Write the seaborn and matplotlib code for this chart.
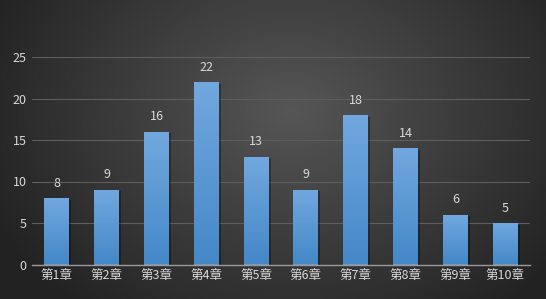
import numpy as np
import pandas as pd
import matplotlib
matplotlib.use("Agg")
import matplotlib.pyplot as plt
import seaborn as sns

categories = ["第1章", "第2章", "第3章", "第4章", "第5章", "第6章", "第7章", "第8章", "第9章", "第10章"]
values = [8, 9, 16, 22, 13, 9, 18, 14, 6, 5]
yticks = [0, 5, 10, 15, 20, 25]

sns.set_theme(style="dark")
plt.rcParams['font.family'] = ['Noto Sans CJK SC', 'DejaVu Sans']

W, H = 546, 299
fig = plt.figure(figsize=(W / 100, H / 100), dpi=100)

# radial gradient background
bg = fig.add_axes([0, 0, 1, 1], zorder=-10)
yy, xx = np.mgrid[0:H, 0:W]
cx, cy = 290, 110
r = np.sqrt(((xx - cx) / 330.0) ** 2 + ((yy - cy) / 260.0) ** 2)
r = np.clip(r, 0, 1)
c0 = np.array([0x56, 0x56, 0x56]) / 255
c1 = np.array([0x22, 0x22, 0x22]) / 255
img = c0[None, None, :] * (1 - r[..., None]) + c1[None, None, :] * r[..., None]
bg.imshow(img, aspect='auto', extent=[0, 1, 0, 1])
bg.set_axis_off()

ax = fig.add_axes([32 / W, 1 - 264.5 / H, 498 / W, (264.5 - 57) / H])
ax.patch.set_alpha(0)

df = pd.DataFrame({"chapter": categories, "count": values})
sns.barplot(data=df, x="chapter", y="count", ax=ax, width=0.5, color="#5b9bd5",
            zorder=3, linewidth=0, edgecolor="none")

ax.set_ylim(0, 25)
ax.set_xlim(-0.5, len(categories) - 0.5)
ax.set_yticks(yticks)
ax.grid(axis='y', color='#5e5e5e', linewidth=0.8, zorder=0)
ax.grid(axis='x', visible=False)
for s in ['top', 'right', 'left']:
    ax.spines[s].set_visible(False)
ax.spines['bottom'].set_color('#9a9a9a')
ax.spines['bottom'].set_linewidth(1.0)
ax.spines['bottom'].set_zorder(5)
ax.set_xlabel("")
ax.set_ylabel("")
ax.tick_params(axis='both', colors='#d0d0d0', labelsize=9, length=0, pad=4)
for t in ax.get_xticklabels() + ax.get_yticklabels():
    t.set_color('#d9d9d9')

# gradient fill on bars
grad = np.linspace(0, 1, 256)[:, None]
top_c = np.array([0x72, 0xa8, 0xdf]) / 255
bot_c = np.array([0x44, 0x88, 0xc8]) / 255
gimg = top_c[None, None, :] * (1 - grad[..., None]) + bot_c[None, None, :] * grad[..., None]
for p in list(ax.patches):
    x0, y0 = p.get_x(), p.get_y()
    w, h = p.get_width(), p.get_height()
    # soft shadow
    ax.add_patch(plt.Rectangle((x0 + 0.04, y0), w, h - 0.2, facecolor='black',
                               alpha=0.3, zorder=2, lw=0))
    im = ax.imshow(gimg, extent=[x0, x0 + w, y0, y0 + h], aspect='auto', zorder=4)
    im.set_clip_path(p)

for i, v in enumerate(values):
    ax.text(i, v + 1.0, str(v), ha='center', va='bottom', color='#d9d9d9', fontsize=9, zorder=6)

ax.set_xlim(-0.5, len(categories) - 0.5)
ax.set_ylim(0, 25)

fig.savefig("out.png", dpi=100)
